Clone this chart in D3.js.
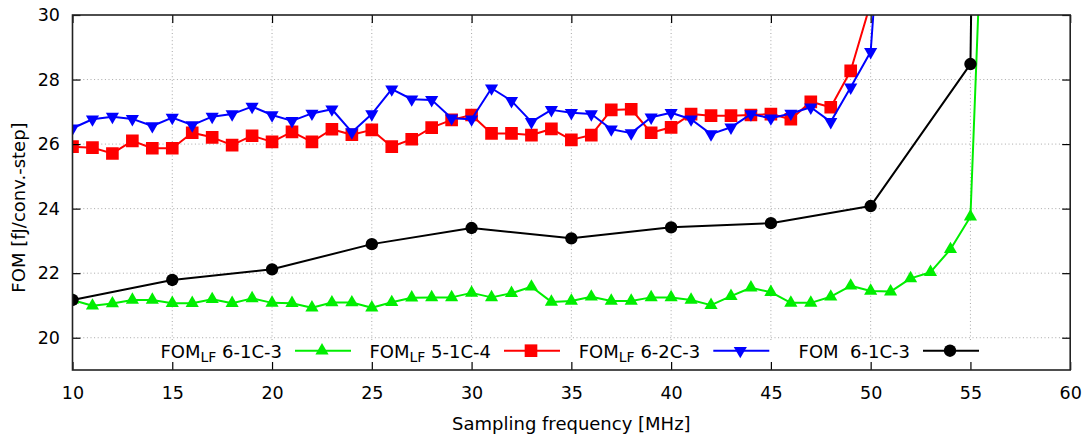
<!DOCTYPE html>
<html>
<head>
<meta charset="utf-8">
<script src="https://cdn.jsdelivr.net/npm/d3@7"></script>
<style>
  html, body { margin: 0; padding: 0; background: #fff; }
  svg { display: block; font-family: "DejaVu Sans", sans-serif; }
  .tick text { font-size: 17.5px; fill: #000; font-family: "DejaVu Sans", sans-serif; }
</style>
</head>
<body>
<svg id="chart" width="1091" height="439"></svg>
<script>
// Sampling frequency grids (MHz)
const freqFine = d3.range(10, 57);          // 10 .. 56
const freqBlack = [10, 15, 20, 25, 30, 35, 40, 45, 50, 55, 60];

// FOM_LF 6-1C-3 (green, 10..56 MHz)
const fomLf61C3 = [21.17, 20.99, 21.06, 21.17, 21.17, 21.07, 21.07, 21.19, 21.07, 21.22,
  21.08, 21.07, 20.93, 21.09, 21.09, 20.93, 21.10, 21.24, 21.25, 21.25,
  21.39, 21.25, 21.38, 21.58, 21.11, 21.14, 21.27, 21.14, 21.14, 21.25,
  21.25, 21.17, 21.01, 21.29, 21.55, 21.41, 21.08, 21.08, 21.27, 21.61,
  21.45, 21.43, 21.84, 22.03, 22.74, 23.75, 39.9];

// FOM_LF 5-1C-4 (red, 10..50 MHz)
const fomLf51C4 = [25.92, 25.89, 25.71, 26.10, 25.87, 25.87, 26.35, 26.21, 25.97, 26.26,
  26.07, 26.38, 26.07, 26.46, 26.29, 26.44, 25.92, 26.15, 26.51, 26.75,
  26.90, 26.33, 26.33, 26.28, 26.47, 26.13, 26.28, 27.06, 27.08, 26.35,
  26.52, 26.93, 26.88, 26.88, 26.90, 26.93, 26.77, 27.31, 27.14, 28.27, 30.37];

// FOM_LF 6-2C-3 (blue, 10..51 MHz)
const fomLf62C3 = [26.49, 26.77, 26.85, 26.78, 26.56, 26.82, 26.59, 26.85, 26.93, 27.16,
  26.90, 26.72, 26.95, 27.08, 26.37, 26.93, 27.70, 27.39, 27.37, 26.80,
  26.77, 27.73, 27.34, 26.69, 27.06, 26.97, 26.93, 26.46, 26.34, 26.83,
  26.97, 26.77, 26.31, 26.52, 26.93, 26.80, 26.95, 27.14, 26.69, 27.76, 28.86, 37.5];

// FOM 6-1C-3 (black, every 5 MHz)
const fom61C3 = [21.17, 21.79, 22.12, 22.90, 23.40, 23.08, 23.42, 23.55, 24.08, 28.48, 250];

const xTicks = [10, 15, 20, 25, 30, 35, 40, 45, 50, 55, 60];
const yTicks = [20, 22, 24, 26, 28, 30];

const series = [
  { name: ["FOM", "LF", " 6-1C-3"], color: "#00ee00", symbol: "up",     x: freqFine,  y: fomLf61C3 },
  { name: ["FOM", "LF", " 5-1C-4"], color: "#ff0000", symbol: "square", x: freqFine,  y: fomLf51C4 },
  { name: ["FOM", "LF", " 6-2C-3"], color: "#0000ff", symbol: "down",   x: freqFine,  y: fomLf62C3 },
  { name: ["FOM  6-1C-3"],          color: "#000000", symbol: "circle", x: freqBlack, y: fom61C3 }
];

(function draw() {
  const svg = d3.select("#chart");
  const pL = 72.5, pR = 1070.2, pT = 15, pB = 370;
  const fs = 18;

  const x = d3.scaleLinear().domain([10, 60]).range([pL, pR]);
  const y = d3.scaleLinear().domain([19, 30]).range([pB, pT]);

  // Dotted grid
  const grid = svg.append("g").attr("stroke", "#a8a8a8").attr("stroke-width", 1)
    .attr("stroke-dasharray", "1,2.6");
  xTicks.filter(t => t > 10 && t < 60).forEach(t => {
    grid.append("line").attr("x1", x(t)).attr("x2", x(t)).attr("y1", pT).attr("y2", pB);
  });
  yTicks.filter(t => t < 30).forEach(t => {
    grid.append("line").attr("x1", pL).attr("x2", pR).attr("y1", y(t)).attr("y2", y(t));
  });

  // Series, clipped to the plot frame
  svg.append("clipPath").attr("id", "plotClip").append("rect")
    .attr("x", pL).attr("y", pT).attr("width", pR - pL).attr("height", pB - pT);
  const plot = svg.append("g").attr("clip-path", "url(#plotClip)");

  const symbolPath = {
    up: d3.symbol(d3.symbolTriangle, 75)(),
    down: d3.symbol(d3.symbolTriangle, 75)(),
    square: d3.symbol(d3.symbolSquare, 160)(),
    circle: d3.symbol(d3.symbolCircle, 120)()
  };

  function drawMarker(g, kind, cx, cy, color) {
    const rot = kind === "down" ? " rotate(180)" : "";
    g.append("path").attr("d", symbolPath[kind]).attr("fill", color)
      .attr("transform", `translate(${cx},${cy})${rot}`);
  }

  const line = d3.line().x(d => x(d[0])).y(d => y(d[1]));

  series.forEach(s => {
    const pts = s.y.map((v, i) => [s.x[i], v]);
    plot.append("path").attr("d", line(pts)).attr("fill", "none")
      .attr("stroke", s.color).attr("stroke-width", 2).attr("stroke-linejoin", "round");
    const mg = plot.append("g");
    pts.filter(p => p[1] <= 30 && p[1] >= 19)
      .forEach(p => drawMarker(mg, s.symbol, x(p[0]), y(p[1]), s.color));
  });

  // Opaque key along the bottom of the frame
  svg.append("rect").attr("x", 148).attr("y", 340).attr("width", 848).attr("height", 30).attr("fill", "#fff");
  const legendEnds = [282, 491, 700.3, 910];
  const ly = 350.7;
  series.forEach((s, i) => {
    const e = legendEnds[i];
    const t = svg.append("text").attr("x", e).attr("y", ly + 7).attr("text-anchor", "end")
      .attr("font-size", fs).attr("fill", "#000").style("white-space", "pre");
    if (s.name.length === 3) {
      t.append("tspan").text(s.name[0]);
      t.append("tspan").attr("font-size", 14).attr("dy", 4).text(s.name[1]);
      t.append("tspan").attr("dy", -4).text(s.name[2]);
    } else {
      t.text(s.name[0]);
    }
    svg.append("line").attr("x1", e + 13).attr("x2", e + 69).attr("y1", ly).attr("y2", ly)
      .attr("stroke", s.color).attr("stroke-width", 2);
    drawMarker(svg, s.symbol, e + 40, ly, s.color);
  });

  // Axes with inward ticks, mirrored on top and right
  const axB = svg.append("g").attr("transform", `translate(0,${pB})`)
    .call(d3.axisBottom(x).tickValues(xTicks).tickSize(-8).tickPadding(16.5).tickFormat(d3.format("d")));
  const axT = svg.append("g").attr("transform", `translate(0,${pT})`)
    .call(d3.axisTop(x).tickValues(xTicks).tickSize(-8).tickFormat(""));
  const axL = svg.append("g").attr("transform", `translate(${pL},0)`)
    .call(d3.axisLeft(y).tickValues(yTicks).tickSize(-8).tickPadding(12.5).tickFormat(d3.format("d")));
  const axR = svg.append("g").attr("transform", `translate(${pR},0)`)
    .call(d3.axisRight(y).tickValues(yTicks).tickSize(-8).tickFormat(""));
  [axB, axT, axL, axR].forEach(a => {
    a.select(".domain").remove();
    a.selectAll(".tick line").attr("stroke", "#000").attr("stroke-width", 1.2);
  });

  // Frame
  svg.append("rect").attr("x", pL).attr("y", pT).attr("width", pR - pL).attr("height", pB - pT)
    .attr("fill", "none").attr("stroke", "#222").attr("stroke-width", 1.6);

  // Axis titles
  svg.append("text").attr("x", (pL + pR) / 2).attr("y", 430).attr("text-anchor", "middle")
    .attr("font-size", fs).attr("fill", "#000").text("Sampling frequency [MHz]");
  svg.append("text").attr("transform", `translate(25,${(pT + pB) / 2 + 15}) rotate(-90)`)
    .attr("text-anchor", "middle").attr("font-size", fs).attr("fill", "#000").text("FOM [fJ/conv.-step]");
})();
</script>
</body>
</html>
